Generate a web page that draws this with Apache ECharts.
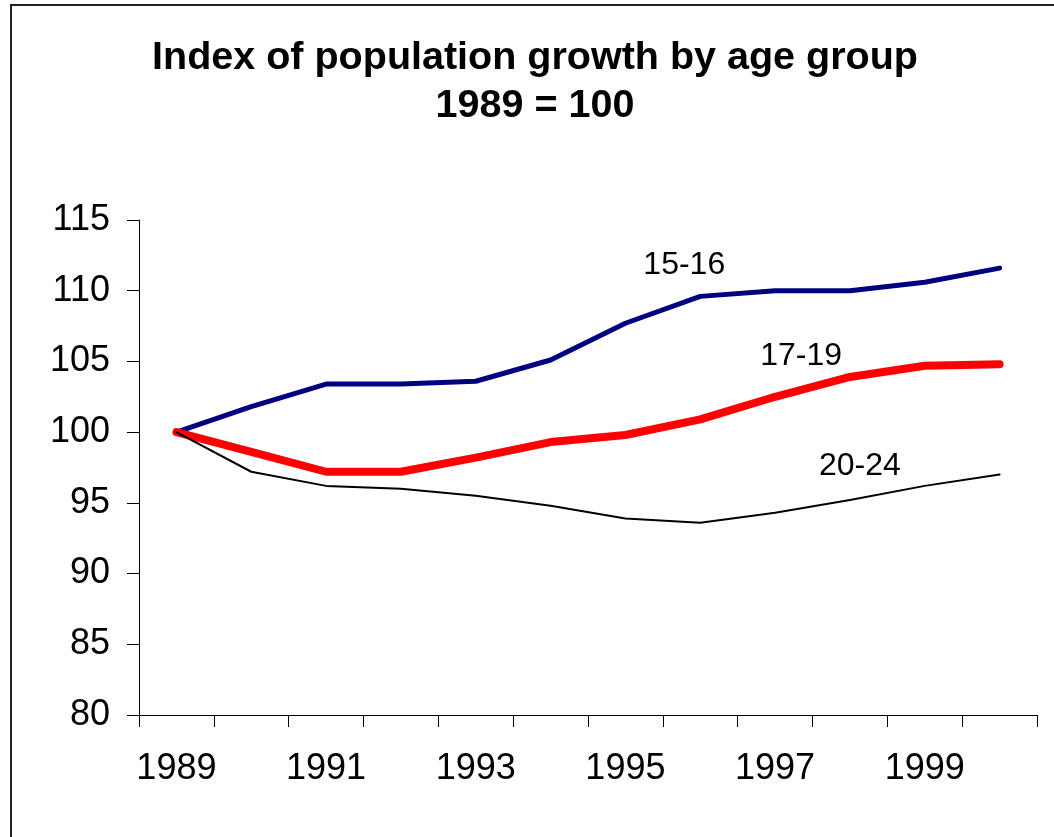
<!DOCTYPE html>
<html>
<head>
<meta charset="utf-8">
<script src="https://cdn.jsdelivr.net/npm/echarts@6/dist/echarts.min.js"></script>
<style>
  html, body { margin: 0; padding: 0; background: #fff; }
  #chart { width: 1054px; height: 837px; }
</style>
</head>
<body>
<div id="chart"></div>
<script>
// Population index by age group, 1989 = 100
const years = ['1989', '1990', '1991', '1992', '1993', '1994', '1995', '1996', '1997', '1998', '1999', '2000'];
const age1516 = [100, 101.8, 103.4, 103.4, 103.6, 105.1, 107.7, 109.6, 110.0, 110.0, 110.6, 111.6];
const age1719 = [100, 98.6, 97.2, 97.2, 98.2, 99.3, 99.8, 100.9, 102.5, 103.9, 104.7, 104.8];
const age2024 = [100, 97.2, 96.2, 96.0, 95.5, 94.8, 93.9, 93.6, 94.3, 95.2, 96.2, 97.0];
const seriesNames = ['15-16', '17-19', '20-24'];
const titleLines = ['Index of population growth by age group', '1989 = 100'];

const FONT = '"Liberation Sans", Arial, sans-serif';

const chart = echarts.init(document.getElementById('chart'), null, { renderer: 'canvas' });

// Name tag placed in data space next to its line
function nameTag(name, year, value, dx) {
  return {
    symbol: 'circle',
    symbolSize: 0,
    silent: true,
    data: [{ coord: [year, value] }],
    label: {
      show: true,
      position: 'inside',
      formatter: name,
      offset: [dx, 0],
      fontFamily: FONT,
      fontSize: 32,
      color: '#000'
    }
  };
}

function lineSeries(name, data, color, width, tag) {
  return {
    name: name,
    type: 'line',
    data: data,
    symbol: 'none',
    lineStyle: { color: color, width: width, cap: 'round', join: 'round' },
    itemStyle: { color: color },
    markPoint: tag
  };
}

chart.setOption({
  animation: false,
  backgroundColor: '#fff',
  grid: { left: 139, right: 17, top: 220, bottom: 122, containLabel: false },
  xAxis: {
    type: 'category',
    data: years,
    boundaryGap: true,
    axisLine: { lineStyle: { color: '#000', width: 1 } },
    axisTick: { show: true, length: 12, interval: 0, lineStyle: { color: '#000' } },
    axisLabel: { interval: 1, margin: 36, fontFamily: FONT, fontSize: 36, color: '#000' },
    splitLine: { show: false }
  },
  yAxis: {
    type: 'value',
    min: 80,
    max: 115,
    interval: 5,
    axisLine: { show: true, lineStyle: { color: '#000', width: 1 } },
    axisTick: { show: true, length: 12, lineStyle: { color: '#000' } },
    axisLabel: { margin: 29, fontFamily: FONT, fontSize: 36, color: '#000' },
    splitLine: { show: false }
  },
  graphic: [
    {
      type: 'rect',
      silent: true,
      shape: { x: 11, y: 5, width: 2000, height: 2000 },
      style: { fill: 'none', stroke: '#222', lineWidth: 2 }
    },
    {
      type: 'text',
      x: 535, y: 58,
      style: {
        text: titleLines[0], font: 'bold 39.5px ' + FONT, fill: '#000',
        align: 'center', verticalAlign: 'middle'
      }
    },
    {
      type: 'text',
      x: 535, y: 106,
      style: {
        text: titleLines[1], font: 'bold 39.5px ' + FONT, fill: '#000',
        align: 'center', verticalAlign: 'middle'
      }
    }
  ],
  series: [
    lineSeries(seriesNames[0], age1516, '#000080', 5, nameTag(seriesNames[0], '1996', 111.8, -16)),
    lineSeries(seriesNames[1], age1719, '#ff0000', 8, nameTag(seriesNames[1], '1997', 105.4, 26)),
    lineSeries(seriesNames[2], age2024, '#000000', 2, nameTag(seriesNames[2], '1998', 97.6, 10))
  ]
});
</script>
</body>
</html>
